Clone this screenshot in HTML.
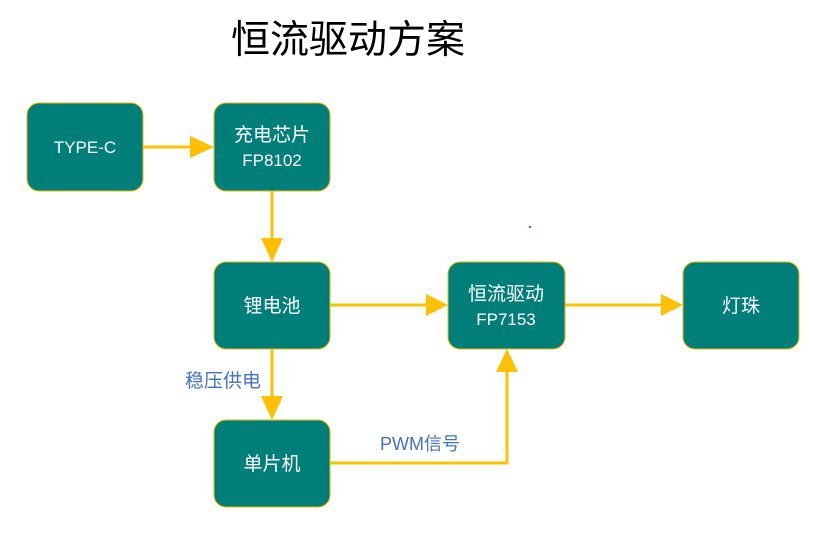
<!DOCTYPE html>
<html><head><meta charset="utf-8"><style>
body{margin:0;width:830px;height:535px;background:#fff;overflow:hidden}
svg{display:block}
text{font-family:"Liberation Sans","Noto Sans CJK SC",sans-serif}
</style></head><body>
<svg width="830" height="535" viewBox="0 0 830 535">
<text x="348" y="53" font-size="39" text-anchor="middle" fill="#000">恒流驱动方案</text>
<g fill="#007f7a" stroke="#e6b800" stroke-width="1">
<rect x="27" y="103" width="116" height="88" rx="12"/>
<rect x="214" y="103" width="116" height="88" rx="12"/>
<rect x="214" y="262" width="116" height="87" rx="12"/>
<rect x="214" y="420" width="116" height="87" rx="12"/>
<rect x="448" y="262" width="117" height="87" rx="12"/>
<rect x="683" y="262" width="116" height="87" rx="12"/>
</g>
<g stroke="#ffc000" stroke-width="3" fill="none">
<line x1="143" y1="147" x2="192" y2="147"/>
<line x1="272" y1="191" x2="272" y2="240"/>
<line x1="330" y1="305" x2="426" y2="305"/>
<line x1="565" y1="305" x2="661" y2="305"/>
<line x1="272" y1="349" x2="272" y2="398"/>
<polyline points="330,463 507,463 507,371"/>
</g>
<g fill="#ffc000">
<polygon points="190,136 214,147 190,158"/>
<polygon points="261,238 272,262 283,238"/>
<polygon points="426,294 448,305 426,316"/>
<polygon points="661,294 683,305 661,316"/>
<polygon points="261,396 272,420 283,396"/>
<polygon points="496,372 507,349 518,372"/>
</g>
<g fill="#fff" font-size="17" text-anchor="middle">
<text x="85" y="153">TYPE-C</text>
<text x="272" y="141" font-size="19">充电芯片</text>
<text x="272" y="166">FP8102</text>
<text x="272" y="312" font-size="19">锂电池</text>
<text x="272" y="470" font-size="19">单片机</text>
<text x="506" y="300" font-size="19">恒流驱动</text>
<text x="506" y="325">FP7153</text>
<text x="741" y="312" font-size="19">灯珠</text>
</g>
<g fill="#4472c4" font-size="19">
<text x="185" y="387">稳压供电</text>
<text x="380" y="450" font-size="18">PWM信号</text>
</g>
<circle cx="530" cy="227" r="1" fill="#e00"/>
</svg>
</body></html>
